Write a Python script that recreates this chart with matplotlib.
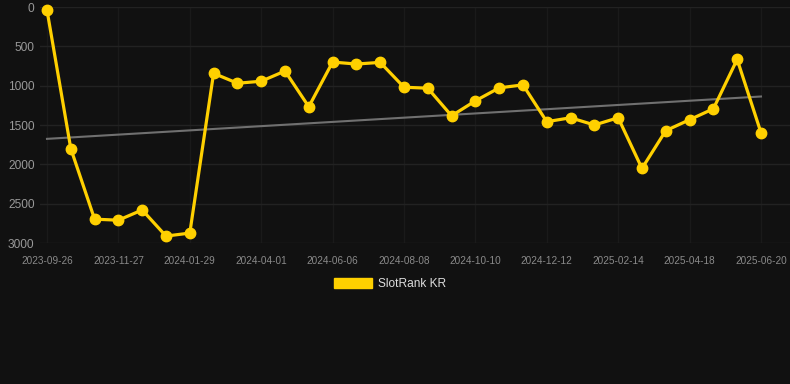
import matplotlib
matplotlib.use("Agg")
import matplotlib.pyplot as plt
from matplotlib.patches import Patch
import numpy as np

# Data
tick_labels = ["2023-09-26", "2023-11-27", "2024-01-29", "2024-04-01", "2024-06-06",
               "2024-08-08", "2024-10-10", "2024-12-12", "2025-02-14", "2025-04-18",
               "2025-06-20"]
rank_values = [40, 1800, 2697, 2710, 2580, 2912, 2874, 843, 969, 944,
               814, 1268, 700, 725, 704, 1020, 1032, 1383, 1193, 1028,
               990, 1458, 1408, 1500, 1408, 2052, 1572, 1433, 1294, 666, 1597]
series_name = "SlotRank KR"
y_ticks = [0, 500, 1000, 1500, 2000, 2500, 3000]

BG = "#111111"
YELLOW = "#FFD000"

plt.rcParams['font.family'] = ['Liberation Sans', 'DejaVu Sans']

fig = plt.figure(figsize=(7.9, 3.84), dpi=100, facecolor=BG)
ax = fig.add_axes([40/790, 1-243/384, 750/790, 236/384])
ax.set_facecolor(BG)

x = np.arange(len(rank_values))
y = np.array(rank_values, dtype=float)

# trend line (linear regression)
coef = np.polyfit(x, y, 1)
ax.plot(x, np.polyval(coef, x), color="#707070", linewidth=1.5, zorder=2)

ax.plot(x, y, color=YELLOW, linewidth=2.3, marker="o", markersize=7.5,
        markerfacecolor=YELLOW, markeredgecolor=YELLOW, zorder=3, clip_on=False)

ax.set_ylim(3000, 0)
ax.set_xlim(-0.294, 31.22)
ax.set_yticks(y_ticks)
ax.set_yticklabels([str(v) for v in y_ticks])
tick_pos = list(range(0, len(rank_values), 3))
ax.set_xticks(tick_pos)
ax.set_xticklabels(tick_labels)

ax.yaxis.grid(True, color="#222222", linewidth=1)
ax.xaxis.grid(True, color="#1a1a1a", linewidth=1)
ax.set_axisbelow(True)
for s in ax.spines.values():
    s.set_visible(False)
ax.tick_params(axis='x', colors="#8a8a8a", labelsize=7.2, length=0, pad=9)
ax.tick_params(axis='y', colors="#8a8a8a", labelsize=8.6, length=0, pad=4)
for lbl in ax.get_yticklabels():
    lbl.set_color("#999999")

handle = Patch(facecolor=YELLOW, edgecolor=YELLOW)
fig.legend([handle], [series_name], loc="center",
           bbox_to_anchor=(390/790, 1-284/384), frameon=False,
           fontsize=8.6, labelcolor="#dddddd", handlelength=3.2,
           handleheight=0.9, handletextpad=0.5)

fig.savefig("out.png", dpi=100, facecolor=BG)
